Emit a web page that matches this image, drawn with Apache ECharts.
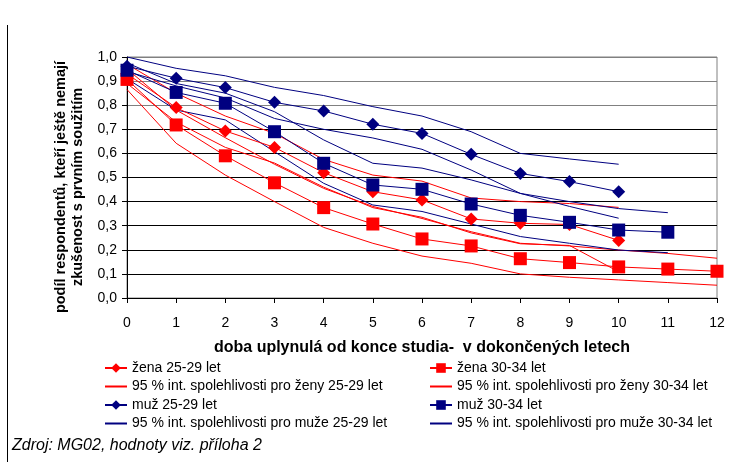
<!DOCTYPE html>
<html>
<head>
<meta charset="utf-8">
<script src="https://cdn.jsdelivr.net/npm/echarts@6/dist/echarts.min.js"></script>
<style>html,body{margin:0;padding:0;background:#fff;}#c{width:732px;height:462px;}</style>
</head>
<body>
<div id="c"></div>
<script>
// x values (years since end of study)
var years = [0,1,2,3,4,5,6,7,8,9,10,11,12];
var yTicks = [0,0.1,0.2,0.3,0.4,0.5,0.6,0.7,0.8,0.9,1.0];

// žena 25-29
var zena2529 = [0.93,0.79,0.693,0.625,0.52,0.441,0.407,0.328,0.31,0.305,0.239];
var zena2529Hi = [0.97,0.85,0.755,0.683,0.575,0.51,0.485,0.415,0.40,0.392,0.376];
var zena2529Lo = [0.89,0.73,0.625,0.56,0.46,0.375,0.335,0.27,0.225,0.218,0.109];
// žena 30-34
var zena3034 = [0.907,0.718,0.59,0.478,0.375,0.307,0.245,0.216,0.163,0.147,0.129,0.12,0.111];
var zena3034Hi = [0.95,0.78,0.665,0.555,0.455,0.38,0.33,0.275,0.227,0.216,0.199,0.185,0.165];
var zena3034Lo = [0.865,0.642,0.51,0.40,0.293,0.227,0.174,0.144,0.10,0.086,0.075,0.064,0.053];
// muž 25-29
var muz2529 = [0.962,0.912,0.873,0.812,0.776,0.721,0.683,0.596,0.517,0.483,0.441];
var muz2529Hi = [1.0,0.953,0.922,0.874,0.84,0.794,0.755,0.69,0.60,0.577,0.555];
var muz2529Lo = [0.94,0.88,0.83,0.745,0.70,0.664,0.617,0.531,0.434,0.38,0.331];
// muž 30-34
var muz3034 = [0.945,0.853,0.808,0.69,0.559,0.469,0.451,0.39,0.343,0.314,0.282,0.273];
var muz3034Hi = [0.975,0.89,0.85,0.773,0.656,0.559,0.539,0.49,0.434,0.40,0.371,0.354];
var muz3034Lo = [0.91,0.78,0.739,0.607,0.476,0.386,0.359,0.307,0.255,0.227,0.199,0.188];

var names = {
  z1: 'žena 25-29 let',
  z1ci: '95 % int. spolehlivosti pro ženy 25-29 let',
  z2: 'žena 30-34 let',
  z2ci: '95 % int. spolehlivosti pro ženy 30-34 let',
  m1: 'muž 25-29 let',
  m1ci: '95 % int. spolehlivosti pro muže 25-29 let',
  m2: 'muž 30-34 let',
  m2ci: '95 % int. spolehlivosti pro muže 30-34 let'
};
var yTitle = 'podíl respondentů, kteří ještě nemají\nzkušenost s prvním soužitím';
var xTitle = 'doba uplynulá od konce studia-  v dokončených letech';
var sourceNote = 'Zdroj: MG02, hodnoty viz. příloha 2';

var RED = '#FF0000', NAVY = '#000080';
var FONT = 'Liberation Sans, Arial, sans-serif';
function pairs(arr){ return arr.map(function(v,i){ return [years[i], v]; }); }
function ci(name, arr, color){
  return {name:name, type:'line', data:pairs(arr), symbol:'none', silent:true,
    lineStyle:{color:color, width:1}, itemStyle:{color:color}, z:2};
}
function main(name, arr, color, sym, size){
  return {name:name, type:'line', data:pairs(arr), symbol:sym, symbolSize:size,
    lineStyle:{color:color, width:1}, itemStyle:{color:color}, z:3};
}
function lineOnly(n){ return {name:n, itemStyle:{opacity:0}}; }

var gridColors = ['#000','#000','#000','#000','#000','#000','#000','#000','#808080','#808080','#808080'];

var chart = echarts.init(document.getElementById('c'), null, {renderer:'canvas'});
chart.setOption({
  animation:false,
  backgroundColor:'#fff',
  textStyle:{fontFamily:FONT},
  grid:{left:127, right:15, top:57, bottom:164, show:true, borderColor:'#808080', borderWidth:1},
  xAxis:{type:'value', min:0, max:12, interval:1,
    axisLine:{lineStyle:{color:'#000', width:1}},
    axisTick:{show:true, length:5, lineStyle:{color:'#000'}},
    axisLabel:{color:'#000', fontSize:14, margin:18, fontFamily:FONT},
    splitLine:{show:false},
    name:xTitle, nameLocation:'middle', nameGap:42,
    nameTextStyle:{fontWeight:'bold', fontSize:16, color:'#000', fontFamily:FONT}
  },
  yAxis:{type:'value', min:0, max:1, interval:0.1,
    axisLine:{show:true, lineStyle:{color:'#000', width:1}},
    axisTick:{show:true, length:5, lineStyle:{color:'#000'}},
    axisLabel:{color:'#000', fontSize:14, margin:10, fontFamily:FONT,
      formatter:function(v){ return v.toFixed(1).replace('.', ','); }},
    splitLine:{show:true, lineStyle:{color:gridColors, width:1}}
  },
  legend:[
    {left:104, top:361, padding:0, orient:'vertical', itemGap:4.5, itemWidth:22, itemHeight:12,
      textStyle:{fontSize:14, color:'#000', fontFamily:FONT},
      data:[names.z1, lineOnly(names.z1ci), names.m1, lineOnly(names.m1ci)]},
    {left:429, top:361, padding:0, orient:'vertical', itemGap:4.5, itemWidth:22, itemHeight:12,
      textStyle:{fontSize:14, color:'#000', fontFamily:FONT},
      data:[names.z2, lineOnly(names.z2ci), names.m2, lineOnly(names.m2ci)]}
  ],
  graphic:[
    {type:'text', x:69, y:187, rotation:Math.PI/2,
      style:{text:yTitle, fontSize:14.5, fontWeight:'bold', lineHeight:17, fill:'#000', fontFamily:FONT,
        align:'center', verticalAlign:'middle'}},
    {type:'text', left:12, top:438, style:{text:sourceNote, fontSize:16, fontStyle:'italic', fill:'#000', fontFamily:FONT}},
    {type:'line', shape:{x1:7.5, y1:25, x2:7.5, y2:462}, style:{stroke:'#000', lineWidth:1}}
  ],
  series:[
    ci(names.z1ci, zena2529Hi, RED), ci(names.z1ci, zena2529Lo, RED),
    ci(names.z2ci, zena3034Hi, RED), ci(names.z2ci, zena3034Lo, RED),
    ci(names.m1ci, muz2529Hi, NAVY), ci(names.m1ci, muz2529Lo, NAVY),
    ci(names.m2ci, muz3034Hi, NAVY), ci(names.m2ci, muz3034Lo, NAVY),
    main(names.z1, zena2529, RED, 'diamond', 13),
    main(names.z2, zena3034, RED, 'rect', 13),
    main(names.m1, muz2529, NAVY, 'diamond', 13),
    main(names.m2, muz3034, NAVY, 'rect', 13)
  ]
});
</script>
</body>
</html>
